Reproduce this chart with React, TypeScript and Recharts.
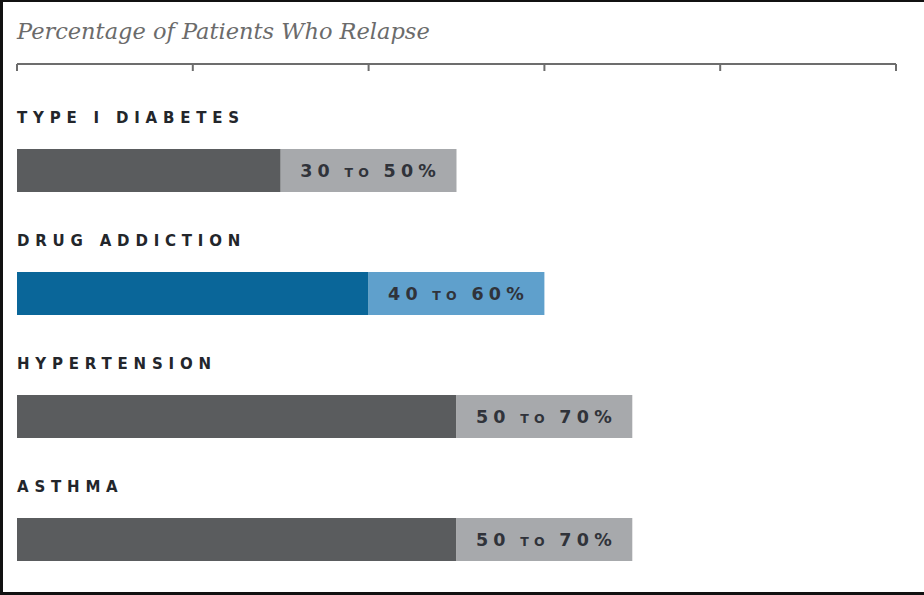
import React from 'react';
import { BarChart, Bar, XAxis, YAxis, Cell, LabelList } from 'recharts';

const conditions = ['TYPE I DIABETES', 'DRUG ADDICTION', 'HYPERTENSION', 'ASTHMA'];
const lowPct = [30, 40, 50, 50];
const highPct = [50, 60, 70, 70];
const axisTicks = [0, 20, 40, 60, 80, 100];
const title = 'Percentage of Patients Who Relapse';

const darkColors = ['#5a5c5e', '#0a6699', '#5a5c5e', '#5a5c5e'];
const lightColors = ['#a7a9ac', '#5fa0cc', '#a7a9ac', '#a7a9ac'];

const data = conditions.map((name, i) => ({
  name,
  low: lowPct[i],
  range: highPct[i] - lowPct[i],
}));

const PLOT_LEFT = 17;

const CategoryTick = (props: any) => {
  const { y, payload } = props;
  return (
    <text
      x={PLOT_LEFT}
      y={y - 48}
      textAnchor="start"
      fill="#23262b"
      fontFamily="DejaVu Sans"
      fontWeight="bold"
      fontSize={15}
      letterSpacing={5.8}
    >
      {payload.value}
    </text>
  );
};

const RangeLabel = (props: any) => {
  const { x, y, width, height, index } = props;
  return (
    <text
      x={x + width / 2 + 2}
      y={y + height / 2 + 6.5}
      textAnchor="middle"
      fill="#30333a"
      fontFamily="DejaVu Sans"
      fontWeight="bold"
      fontSize={17.5}
      letterSpacing={5.2}
    >
      {lowPct[index]}
      <tspan fontSize={12.5}> TO </tspan>
      {highPct[index]}%
    </text>
  );
};

export default function App() {
  return (
    <div
      style={{
        position: 'fixed',
        left: 0,
        top: 0,
        width: 924,
        height: 595,
        overflow: 'hidden',
        background: '#fff',
      }}
    >
      <div
        style={{
          position: 'absolute',
          left: PLOT_LEFT,
          top: 18,
          fontFamily: 'DejaVu Serif',
          fontStyle: 'italic',
          fontSize: 22.5,
          color: '#6b6b6b',
          whiteSpace: 'nowrap',
        }}
      >
        {title}
      </div>
      <BarChart
        width={924}
        height={601}
        data={data}
        layout="vertical"
        margin={{ top: 34, right: 28, left: 0, bottom: 0 }}
      >
        <XAxis
          type="number"
          orientation="top"
          domain={[0, 100]}
          ticks={axisTicks}
          height={30}
          tickSize={-7}
          tickFormatter={() => ''}
          axisLine={{ stroke: '#6d6d6d', strokeWidth: 2 }}
          tickLine={{ stroke: '#6d6d6d', strokeWidth: 2 }}
        />
        <YAxis
          type="category"
          dataKey="name"
          width={PLOT_LEFT}
          axisLine={false}
          tickLine={false}
          padding={{ top: 45, bottom: 0 }}
          tick={<CategoryTick />}
        />
        <Bar dataKey="low" stackId="a" barSize={43} isAnimationActive={false}>
          {data.map((d, i) => (
            <Cell key={d.name} fill={darkColors[i]} />
          ))}
        </Bar>
        <Bar dataKey="range" stackId="a" barSize={43} isAnimationActive={false}>
          {data.map((d, i) => (
            <Cell key={d.name} fill={lightColors[i]} />
          ))}
          <LabelList dataKey="range" content={<RangeLabel />} />
        </Bar>
      </BarChart>
      <div
        style={{
          position: 'absolute',
          inset: 0,
          borderLeft: '3px solid #111',
          borderTop: '2px solid #111',
          borderBottom: '3px solid #111',
          pointerEvents: 'none',
        }}
      />
    </div>
  );
}
